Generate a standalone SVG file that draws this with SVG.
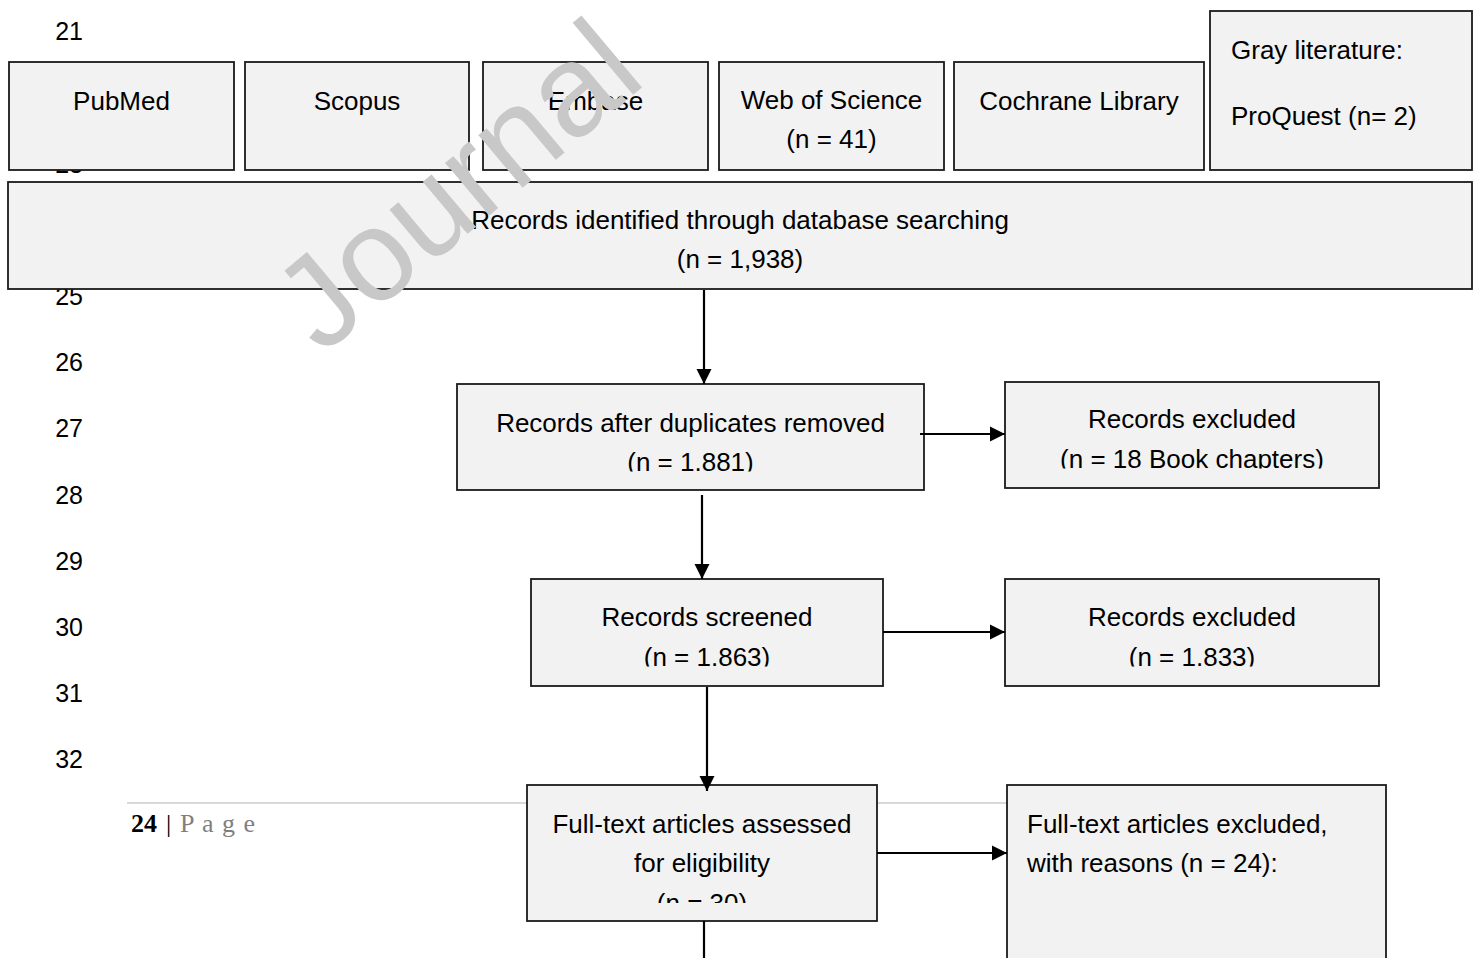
<svg xmlns="http://www.w3.org/2000/svg" width="1477" height="958" viewBox="0 0 1477 958">
<style>
.box{fill:#f2f2f2;stroke:#1a1a1a;stroke-width:1.8}
.t{font-family:"Liberation Sans",Arial,sans-serif;font-size:26px;fill:#000}
.c{text-anchor:middle}
.ln{font-family:"Liberation Sans",Arial,sans-serif;font-size:25px;fill:#000;text-anchor:end}
.con{stroke:#000;stroke-width:2.2;fill:none}
</style>
<defs>
<marker id="ah" markerUnits="userSpaceOnUse" markerWidth="17" markerHeight="17" refX="15" refY="8" orient="auto">
<path d="M0,0.5 L15,8 L0,15.5 Z" fill="#000"/>
</marker>
<clipPath id="cDup"><rect x="457" y="384" width="467" height="87.5"/></clipPath>
<clipPath id="cEx1"><rect x="1005" y="382" width="374" height="86.5"/></clipPath>
<clipPath id="cScr"><rect x="531" y="579" width="352" height="87.5"/></clipPath>
<clipPath id="cEx2"><rect x="1005" y="579" width="374" height="87.5"/></clipPath>
<clipPath id="cFull"><rect x="527" y="785" width="350" height="118"/></clipPath>
</defs>

<g id="line-numbers">
<text class="ln" x="83" y="40">21</text>
<text class="ln" x="83" y="173">23</text>
<text class="ln" x="83" y="305">25</text>
<text class="ln" x="83" y="371">26</text>
<text class="ln" x="83" y="437">27</text>
<text class="ln" x="83" y="504">28</text>
<text class="ln" x="83" y="570">29</text>
<text class="ln" x="83" y="636">30</text>
<text class="ln" x="83" y="702">31</text>
<text class="ln" x="83" y="768">32</text>
</g>

<g id="footer">
<line x1="127" y1="803" x2="1200" y2="803" stroke="#d9d9d9" stroke-width="2"/>
<text x="131" y="832" font-family="Liberation Serif,Times New Roman,serif" font-size="26" font-weight="bold" fill="#000">24</text>
<text x="166" y="832" font-family="Liberation Serif,Times New Roman,serif" font-size="26" fill="#000">|</text>
<text x="180" y="832" font-family="Liberation Serif,Times New Roman,serif" font-size="26" fill="#7f7f7f" letter-spacing="1">P a g e</text>
</g>

<g id="pubmed">
<rect class="box" x="9" y="62" width="225" height="108"/>
<text class="t c" x="121.5" y="110">PubMed</text>
</g>
<g id="scopus">
<rect class="box" x="245" y="62" width="224" height="108"/>
<text class="t c" x="357" y="110">Scopus</text>
</g>
<g id="embase">
<rect class="box" x="483" y="62" width="225" height="108"/>
<text class="t c" x="595.5" y="110">Embase</text>
</g>
<g id="wos">
<rect class="box" x="719" y="62" width="225" height="108"/>
<text class="t c" x="831.5" y="109">Web of Science</text>
<text class="t c" x="831.5" y="148">(n = 41)</text>
</g>
<g id="cochrane">
<rect class="box" x="954" y="62" width="250" height="108"/>
<text class="t c" x="1079" y="110">Cochrane Library</text>
</g>
<g id="gray">
<rect class="box" x="1210" y="11" width="262" height="159"/>
<text class="t" x="1231" y="59">Gray literature:</text>
<text class="t" x="1231" y="125">ProQuest (n= 2)</text>
</g>
<g id="identified">
<rect class="box" x="8" y="182" width="1464" height="107"/>
<text class="t c" x="740" y="229">Records identified through database searching</text>
<text class="t c" x="740" y="268">(n = 1,938)</text>
</g>
<g id="duplicates">
<rect class="box" x="457" y="384" width="467" height="106"/>
<g clip-path="url(#cDup)">
<text class="t c" x="690.5" y="432">Records after duplicates removed</text>
<text class="t c" x="690.5" y="471">(n = 1.881)</text>
</g>
</g>
<g id="excluded1">
<rect class="box" x="1005" y="382" width="374" height="106"/>
<g clip-path="url(#cEx1)">
<text class="t c" x="1192" y="428">Records excluded</text>
<text class="t c" x="1192" y="468">(n = 18 Book chapters)</text>
</g>
</g>
<g id="screened">
<rect class="box" x="531" y="579" width="352" height="107"/>
<g clip-path="url(#cScr)">
<text class="t c" x="707" y="626">Records screened</text>
<text class="t c" x="707" y="666">(n = 1.863)</text>
</g>
</g>
<g id="excluded2">
<rect class="box" x="1005" y="579" width="374" height="107"/>
<g clip-path="url(#cEx2)">
<text class="t c" x="1192" y="626">Records excluded</text>
<text class="t c" x="1192" y="666">(n = 1.833)</text>
</g>
</g>
<g id="fulltext">
<rect class="box" x="527" y="785" width="350" height="136"/>
<g clip-path="url(#cFull)">
<text class="t c" x="702" y="833">Full-text articles assessed</text>
<text class="t c" x="702" y="872">for eligibility</text>
<text class="t c" x="702" y="912">(n = 30)</text>
</g>
</g>
<g id="fulltext-excluded">
<rect class="box" x="1007" y="785" width="379" height="190"/>
<text class="t" x="1027" y="833">Full-text articles excluded,</text>
<text class="t" x="1027" y="872">with reasons (n = 24):</text>
</g>

<g id="connectors">
<line class="con" x1="704" y1="290" x2="704" y2="384" marker-end="url(#ah)"/>
<line class="con" x1="920" y1="434" x2="1005" y2="434" marker-end="url(#ah)"/>
<line class="con" x1="702" y1="495" x2="702" y2="579" marker-end="url(#ah)"/>
<line class="con" x1="883" y1="632" x2="1005" y2="632" marker-end="url(#ah)"/>
<line class="con" x1="707" y1="687" x2="707" y2="791" marker-end="url(#ah)"/>
<line class="con" x1="877" y1="853" x2="1007" y2="853" marker-end="url(#ah)"/>
<line class="con" x1="704" y1="921" x2="704" y2="958"/>
</g>

<g id="watermark">
<text x="322" y="356" transform="rotate(-40 322 356)" font-family="Liberation Sans,Arial,sans-serif" font-size="130" fill="#c8c8c8">Journal</text>
</g>
</svg>
